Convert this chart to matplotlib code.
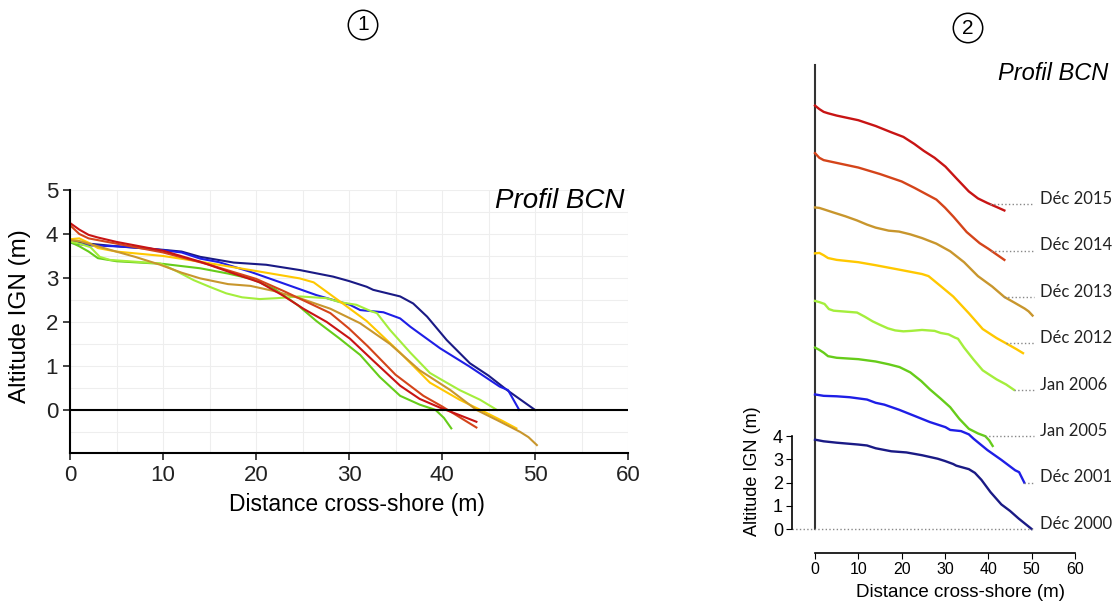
import numpy as np
import matplotlib
matplotlib.use("Agg")
import matplotlib.pyplot as plt

plt.rcParams['font.family'] = ['Liberation Sans', 'DejaVu Sans']

# profile BCN, distance cross-shore (m) / altitude IGN (m)
x_2000 = [0, 2, 5, 10, 12, 14, 17.6, 21.1, 24.7, 28.3, 30, 31.9, 32.6, 35.5, 36.9, 38.4, 40.5, 43, 45, 47, 50]
y_2000 = [3.85, 3.78, 3.72, 3.64, 3.6, 3.48, 3.35, 3.3, 3.18, 3.03, 2.93, 2.8, 2.73, 2.58, 2.42, 2.12, 1.59, 1.06, 0.78, 0.45, 0.0]

x_2001 = [0, 2, 5, 8, 10, 12, 14, 16, 19.4, 22.9, 26.5, 30.1, 31.2, 33.7, 35.5, 36.6, 39.8, 43, 46.2, 47.1, 48.3]
y_2001 = [3.8, 3.74, 3.72, 3.68, 3.63, 3.58, 3.44, 3.36, 3.14, 2.88, 2.61, 2.39, 2.27, 2.22, 2.08, 1.89, 1.4, 0.98, 0.53, 0.45, 0.0]

x_2005 = [0, 1, 2, 3, 5, 10, 14, 17, 19.5, 22, 24.5, 26.5, 29, 31.2, 33.3, 35.5, 37.6, 39.3, 40.2, 41]
y_2005 = [3.82, 3.72, 3.6, 3.45, 3.38, 3.32, 3.22, 3.1, 2.98, 2.75, 2.38, 2.02, 1.62, 1.25, 0.75, 0.32, 0.12, 0.0, -0.18, -0.42]

x_2006 = [0, 1, 2.2, 3.2, 4.3, 7, 9.7, 11.5, 13.3, 15, 16.8, 18.5, 20.4, 22.2, 24.7, 27.6, 29, 30.8, 32.3, 33, 34.4, 36.6, 38.7, 40, 41.9, 44.1, 45.9]
y_2006 = [3.83, 3.78, 3.7, 3.48, 3.41, 3.37, 3.33, 3.15, 2.95, 2.8, 2.65, 2.56, 2.52, 2.54, 2.58, 2.54, 2.45, 2.39, 2.25, 2.2, 1.82, 1.3, 0.84, 0.68, 0.45, 0.23, 0.0]

x_2012 = [0, 1, 2, 3, 5, 10, 14, 19.4, 24.7, 26.2, 29, 31.9, 35.5, 38.7, 41.9, 44.8, 46.5, 48]
y_2012 = [3.88, 3.9, 3.8, 3.68, 3.6, 3.5, 3.37, 3.18, 2.99, 2.9, 2.47, 2.02, 1.3, 0.62, 0.23, -0.07, -0.25, -0.42]

x_2013 = [0, 1, 2, 4.3, 7, 9.7, 12, 14, 17, 19.4, 22, 24.7, 28, 31.2, 34.4, 37.6, 40.9, 43.7, 45.9, 48.4, 49.3, 50.2]
y_2013 = [3.86, 3.84, 3.78, 3.64, 3.48, 3.3, 3.12, 2.99, 2.86, 2.82, 2.7, 2.54, 2.3, 1.97, 1.5, 0.9, 0.45, 0.0, -0.23, -0.5, -0.62, -0.8]

x_2014 = [0, 1, 2, 5, 10, 15, 20, 23, 25, 28, 30, 32, 35, 38, 40, 42, 43.7]
y_2014 = [4.2, 4.0, 3.9, 3.78, 3.58, 3.3, 2.98, 2.7, 2.5, 2.2, 1.85, 1.45, 0.8, 0.32, 0.08, -0.18, -0.4]

x_2015 = [0, 1, 2, 3, 5, 8, 10, 14, 17.6, 20.4, 22.9, 25.1, 27.6, 30.1, 32.6, 35.5, 37.6, 39.8, 41.9, 43.7]
y_2015 = [4.25, 4.1, 3.98, 3.92, 3.82, 3.7, 3.62, 3.37, 3.1, 2.9, 2.6, 2.3, 2.0, 1.62, 1.12, 0.55, 0.25, 0.05, -0.12, -0.27]

labels = ["Déc 2000", "Déc 2001", "Jan 2005", "Jan 2006", "Déc 2012", "Déc 2013", "Déc 2014", "Déc 2015"]
xs = [x_2000, x_2001, x_2005, x_2006, x_2012, x_2013, x_2014, x_2015]
ys = [y_2000, y_2001, y_2005, y_2006, y_2012, y_2013, y_2014, y_2015]
colors = ["#1a1a85", "#1e1ee6", "#66cc1a", "#a4ee3c", "#ffc800", "#c8962d", "#d4441a", "#c81414"]
offsets = [0, 2, 4, 6, 8, 10, 12, 14]


def zero_crossing(x, y):
    for i in range(1, len(y)):
        if y[i] <= 0:
            return x[i-1] + (x[i] - x[i-1]) * y[i-1] / (y[i-1] - y[i])
    return x[-1]


fig = plt.figure(figsize=(11.17, 6.02), dpi=100)

# ---- panel 1: all profiles superposed
ax1 = fig.add_axes([70/1117, 1-453/602, 558/1117, 263/602])
for x, y, c in zip(xs, ys, colors):
    ax1.plot(x, y, color=c, lw=1.5)
ax1.axhline(0, color='black', lw=1.5)
ax1.set_xlim(0, 60)
ax1.set_ylim(-0.98, 5)
ax1.set_xticks(range(0, 61, 10))
ax1.set_yticks(range(0, 6))
ax1.set_xticks(range(5, 60, 10), minor=True)
ax1.set_yticks(np.arange(-0.5, 5, 1), minor=True)
ax1.grid(True, which='both', color='#eeeeee', lw=0.8)
ax1.set_axisbelow(True)
for s in ['top', 'right']:
    ax1.spines[s].set_visible(False)
ax1.spines['left'].set_linewidth(1.5)
ax1.spines['bottom'].set_linewidth(1.5)
ax1.tick_params(which='major', labelsize=16, length=5, width=1.2, colors='#222222')
ax1.tick_params(which='minor', length=0)
ax1.text(59.6, 4.75, "Profil BCN", style='italic', fontsize=20, ha='right', va='center')
ax1.text(-0.09, 0.52, "Altitude IGN (m)", transform=ax1.transAxes, rotation=90,
         fontsize=17.5, ha='center', va='center')
ax1.text(0.515, -0.194, "Distance cross-shore (m)", transform=ax1.transAxes,
         fontsize=16.5, ha='center', va='center')

# ---- panel 2: profiles stacked with 2 m offset
ax2 = fig.add_axes([815/1117, 1-529/602, 260/1117, 464/602])
ax2.set_xlim(0, 60)
ax2.set_ylim(0, 20)
ax2.plot([0, 0], [0, 20], color='#333333', lw=1.5, clip_on=False)
for x, y, c, off, lab in zip(xs, ys, colors, offsets, labels):
    ax2.plot(x, np.array(y) + off, color=c, lw=1.7, clip_on=False)
    x0 = -5.3 if off == 0 else zero_crossing(x, y)
    ax2.plot([x0, 50.6], [off, off], color='#888888', ls=':', lw=1, clip_on=False)
    ax2.text(52, off + 0.22, lab, fontsize=12, family=['Lato', 'DejaVu Sans'],
             ha='left', va='center', color='#222222')
for s in ['top', 'right']:
    ax2.spines[s].set_visible(False)
# outward offsets are in points
ax2.spines['left'].set_position(('outward', 16.5))
ax2.spines['left'].set_bounds(0, 4)
ax2.spines['bottom'].set_position(('outward', 17.3))
ax2.spines['bottom'].set_bounds(0, 60)
ax2.spines['left'].set_linewidth(1.2)
ax2.spines['bottom'].set_linewidth(1.2)
ax2.set_xticks(range(0, 61, 10))
ax2.set_yticks(range(0, 5))
ax2.tick_params(axis='y', labelsize=13, length=4.5, pad=2)
ax2.tick_params(axis='x', labelsize=11.5, length=4.5, pad=2)
ax2.text(67.6, 19.65, "Profil BCN", style='italic', fontsize=17, ha='right', va='center')
ax2.text(-0.242, 0.125, "Altitude IGN (m)", transform=ax2.transAxes, rotation=90,
         fontsize=13, ha='center', va='center')
ax2.text(0.558, -0.136, "Distance cross-shore (m)", transform=ax2.transAxes,
         fontsize=13.5, ha='center', va='center')

# circled panel numbers
for xp, yp, t in [(363, 25, "1"), (968, 28, "2")]:
    fig.text(xp/1117, 1-yp/602, t, fontsize=15, ha='center', va='center',
             bbox=dict(boxstyle='circle,pad=0.25', fc='white', ec='black', lw=1.1))

fig.savefig("out.png", dpi=100)
